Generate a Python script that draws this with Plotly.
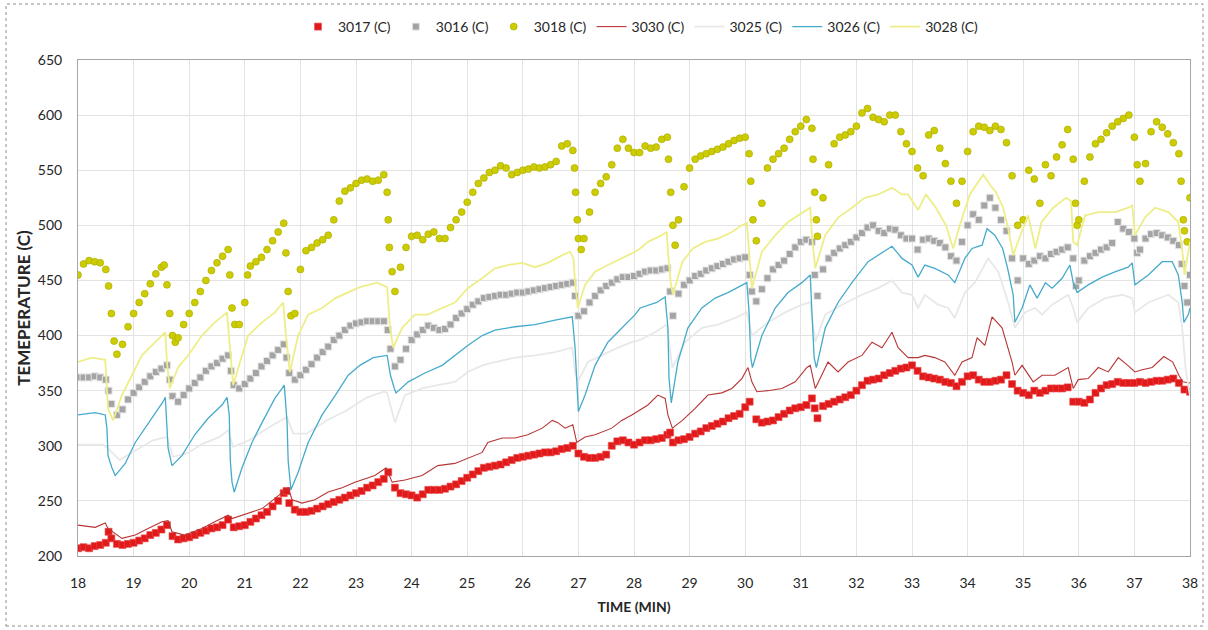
import plotly.graph_objects as go

# ---- thermocouple readings: (time in minutes, temperature in C) ----
S3017 = [(18.0,207),(18.1,208),(18.2,207),(18.3,209),(18.4,210),(18.5,212),(18.55,222),(18.6,216),(18.7,211),(18.8,210),
         (18.9,211),(19.0,212),(19.1,214),(19.2,216),(19.3,219),(19.4,221),(19.5,224),(19.6,228),(19.7,218),(19.8,215),
         (19.9,216),(20.0,217),(20.1,219),(20.2,221),(20.3,223),(20.4,225),(20.5,226),(20.6,228),(20.7,233),(20.8,226),
         (20.9,227),(21.0,228),(21.1,231),(21.2,234),(21.3,237),(21.4,240),(21.5,245),(21.6,250),(21.7,257),(21.75,259),
         (21.8,248),(21.9,242),(22.0,240),(22.1,240),(22.2,241),(22.3,243),(22.4,245),(22.5,247),(22.6,249),(22.7,251),
         (22.8,253),(22.9,255),(23.0,257),(23.1,259),(23.2,262),(23.3,264),(23.4,267),(23.5,270),(23.58,276),(23.7,262),
         (23.8,257),(23.9,256),(24.0,255),(24.1,253),(24.2,256),(24.3,260),(24.4,260),(24.5,260),(24.6,261),(24.7,263),
         (24.8,265),(24.9,268),(25.0,271),(25.1,274),(25.2,277),(25.3,280),(25.4,281),(25.5,282),(25.6,283),(25.7,285),
         (25.8,287),(25.9,289),(26.0,290),(26.1,291),(26.2,292),(26.3,293),(26.4,294),(26.5,294),(26.6,295),(26.7,297),
         (26.8,298),(26.9,300),(27.0,293),(27.1,290),(27.2,289),(27.3,289),(27.4,290),(27.5,292),(27.6,300),(27.7,304),
         (27.8,305),(27.9,303),(28.0,301),(28.1,303),(28.2,305),(28.3,305),(28.4,306),(28.5,307),(28.6,310),(28.65,312),
         (28.7,303),(28.8,305),(28.9,306),(29.0,308),(29.1,311),(29.2,313),(29.3,316),(29.4,318),(29.5,320),(29.6,322),
         (29.7,325),(29.8,327),(29.9,329),(30.0,335),(30.08,340),(30.2,324),(30.3,321),(30.4,322),(30.5,323),(30.6,326),
         (30.7,329),(30.8,332),(30.9,334),(31.0,335),(31.1,337),(31.2,343),(31.25,334),(31.3,325),(31.4,336),(31.5,338),
         (31.6,340),(31.7,342),(31.8,344),(31.9,346),(32.0,350),(32.1,355),(32.2,359),(32.3,360),(32.4,361),(32.5,364),
         (32.6,366),(32.7,368),(32.8,370),(32.9,371),(33.0,373),(33.1,368),(33.2,363),(33.3,362),(33.4,361),(33.5,360),
         (33.6,358),(33.7,357),(33.8,354),(33.9,358),(34.0,363),(34.1,364),(34.2,360),(34.3,358),(34.4,358),(34.5,359),
         (34.6,360),(34.7,364),(34.8,356),(34.9,350),(35.0,348),(35.1,346),(35.2,350),(35.3,348),(35.4,350),(35.5,352),
         (35.6,352),(35.7,352),(35.8,353),(35.9,340),(36.0,340),(36.1,339),(36.2,342),(36.3,348),(36.4,352),(36.5,355),
         (36.6,356),(36.7,358),(36.8,357),(36.9,357),(37.0,357),(37.1,358),(37.2,357),(37.3,358),(37.4,359),(37.5,359),
         (37.6,360),(37.7,361),(37.8,357),(37.9,351),(38.0,349)]

S3016 = [(18.0,362),(18.1,362),(18.2,362),(18.3,363),(18.4,362),(18.5,360),(18.55,350),(18.6,338),(18.7,328),(18.8,333),
         (18.9,342),(19.0,348),(19.1,353),(19.2,358),(19.3,363),(19.4,367),(19.5,370),(19.6,373),(19.65,360),(19.7,345),
         (19.8,340),(19.9,346),(20.0,352),(20.1,357),(20.2,362),(20.3,368),(20.4,372),(20.5,375),(20.6,379),(20.7,382),
         (20.75,368),(20.8,355),(20.9,352),(21.0,356),(21.1,361),(21.2,366),(21.3,372),(21.4,377),(21.5,382),(21.6,387),
         (21.7,392),(21.75,380),(21.8,366),(21.9,360),(22.0,364),(22.1,369),(22.2,374),(22.3,380),(22.4,385),(22.5,390),
         (22.6,396),(22.7,400),(22.8,405),(22.9,409),(23.0,411),(23.1,412),(23.2,413),(23.3,413),(23.4,413),(23.5,413),
         (23.57,405),(23.62,388),(23.7,372),(23.8,378),(23.9,388),(24.0,396),(24.1,401),(24.2,405),(24.3,409),(24.4,407),
         (24.5,405),(24.6,406),(24.7,410),(24.8,416),(24.9,420),(25.0,424),(25.1,428),(25.2,431),(25.3,434),(25.4,435),
         (25.5,436),(25.6,437),(25.7,437),(25.8,438),(25.9,439),(26.0,439),(26.1,440),(26.2,441),(26.3,442),(26.4,443),
         (26.5,444),(26.6,445),(26.7,446),(26.8,447),(26.9,448),(26.94,436),(27.0,418),(27.1,422),(27.2,430),(27.3,436),
         (27.4,441),(27.5,445),(27.6,448),(27.7,451),(27.8,453),(27.9,453),(28.0,454),(28.1,456),(28.2,458),(28.3,459),
         (28.4,459),(28.5,460),(28.6,461),(28.65,440),(28.7,418),(28.8,438),(28.9,446),(29.0,450),(29.1,454),(29.2,456),
         (29.3,459),(29.4,461),(29.5,463),(29.6,465),(29.7,467),(29.8,469),(29.9,470),(30.0,471),(30.08,455),(30.12,440),
         (30.2,431),(30.3,442),(30.4,452),(30.5,460),(30.6,464),(30.7,468),(30.8,474),(30.9,480),(31.0,485),(31.1,487),
         (31.2,485),(31.25,455),(31.3,436),(31.4,460),(31.5,470),(31.6,475),(31.7,479),(31.8,482),(31.9,485),(32.0,489),
         (32.1,493),(32.2,498),(32.3,500),(32.4,495),(32.5,493),(32.6,497),(32.7,496),(32.8,491),(32.9,488),(33.0,488),
         (33.1,478),(33.2,487),(33.3,488),(33.4,486),(33.5,484),(33.6,480),(33.7,472),(33.8,468),(33.9,485),(34.0,500),
         (34.1,510),(34.2,505),(34.3,518),(34.4,525),(34.5,516),(34.6,505),(34.7,495),(34.8,470),(34.9,450),(35.0,470),
         (35.1,465),(35.2,468),(35.3,472),(35.4,470),(35.5,474),(35.6,476),(35.7,478),(35.8,480),(35.9,470),(35.95,445),
         (36.0,450),(36.1,468),(36.2,472),(36.3,475),(36.4,478),(36.5,480),(36.6,484),(36.7,503),(36.8,497),(36.9,494),
         (37.0,488),(37.05,475),(37.1,478),(37.2,488),(37.3,492),(37.4,493),(37.5,491),(37.6,489),(37.7,486),(37.8,482),
         (37.85,465),(37.9,445),(37.95,430),(38.0,455)]

S3018 = [(18.0,455),(18.1,465),(18.2,468),(18.3,467),(18.4,466),(18.5,460),(18.55,445),(18.6,420),(18.65,395),(18.7,383),
         (18.8,392),(18.9,408),(19.0,420),(19.1,430),(19.2,438),(19.3,447),(19.4,456),(19.5,462),(19.55,464),(19.6,446),
         (19.65,420),(19.7,400),(19.75,394),(19.8,398),(19.9,410),(20.0,420),(20.1,430),(20.2,440),(20.3,450),(20.4,459),
         (20.5,466),(20.6,472),(20.7,478),(20.73,455),(20.77,425),(20.82,410),(20.9,410),(21.0,430),(21.05,455),(21.1,463),
         (21.2,467),(21.3,471),(21.4,478),(21.5,486),(21.6,494),(21.7,502),(21.74,475),(21.78,440),(21.83,418),(21.9,420),
         (22.0,460),(22.1,477),(22.2,480),(22.3,484),(22.4,487),(22.5,491),(22.6,505),(22.7,522),(22.8,531),(22.9,534),
         (23.0,538),(23.1,541),(23.2,542),(23.3,540),(23.4,541),(23.5,546),(23.56,530),(23.58,505),(23.6,480),(23.65,458),
         (23.7,440),(23.8,462),(23.9,480),(24.0,490),(24.1,491),(24.2,487),(24.3,492),(24.4,494),(24.5,488),(24.6,488),
         (24.7,498),(24.8,505),(24.9,512),(25.0,521),(25.1,530),(25.2,538),(25.3,543),(25.4,548),(25.5,550),(25.6,554),
         (25.7,552),(25.8,546),(25.9,548),(26.0,550),(26.1,551),(26.2,553),(26.3,552),(26.4,553),(26.5,555),(26.6,558),
         (26.7,572),(26.8,574),(26.9,568),(26.93,552),(26.95,530),(26.98,505),(27.0,488),(27.05,478),(27.1,488),(27.2,512),
         (27.3,530),(27.4,538),(27.5,544),(27.6,555),(27.7,570),(27.8,578),(27.9,570),(28.0,566),(28.1,566),(28.2,572),
         (28.3,570),(28.4,571),(28.5,578),(28.6,580),(28.62,560),(28.66,530),(28.7,500),(28.74,482),(28.8,505),(28.9,535),
         (29.0,552),(29.1,560),(29.2,563),(29.3,565),(29.4,567),(29.5,569),(29.6,571),(29.7,574),(29.8,577),(29.9,579),
         (30.0,580),(30.07,565),(30.1,540),(30.14,505),(30.2,486),(30.3,520),(30.4,552),(30.5,560),(30.6,565),(30.7,570),
         (30.8,578),(30.9,585),(31.0,590),(31.1,596),(31.2,588),(31.22,560),(31.25,530),(31.28,505),(31.3,490),(31.4,525),
         (31.5,555),(31.6,574),(31.7,580),(31.8,582),(31.9,585),(32.0,590),(32.1,602),(32.2,606),(32.3,598),(32.4,596),
         (32.5,594),(32.6,600),(32.7,600),(32.8,585),(32.9,574),(33.0,567),(33.1,552),(33.2,545),(33.3,582),(33.4,586),
         (33.5,570),(33.6,556),(33.7,540),(33.8,520),(33.9,540),(34.0,567),(34.1,585),(34.2,590),(34.3,589),(34.4,586),
         (34.5,590),(34.6,587),(34.7,575),(34.8,545),(34.9,500),(35.0,505),(35.1,550),(35.2,542),(35.3,520),(35.4,555),
         (35.5,545),(35.6,562),(35.7,573),(35.8,587),(35.9,560),(35.94,520),(35.97,500),(36.0,505),(36.1,540),(36.2,562),
         (36.3,574),(36.4,578),(36.5,584),(36.6,590),(36.7,594),(36.8,597),(36.9,600),(37.0,580),(37.05,555),(37.1,540),
         (37.2,556),(37.3,585),(37.4,594),(37.5,589),(37.6,583),(37.7,575),(37.8,565),(37.84,540),(37.88,505),(37.9,495),
         (37.95,485),(38.0,525)]

S3030 = [(18.0,228),(18.31,226),(18.49,230),(18.54,225),(18.79,216),(19.03,219),(19.26,225),(19.51,231),(19.62,232),
         (19.69,222),(19.92,219),(20.23,225),(20.46,231),(20.7,237),(20.77,234),(21.31,243),(21.54,252),(21.72,260),
         (21.78,262),(21.85,251),(22.03,248),(22.26,251),(22.5,258),(22.75,262),(22.98,267),(23.34,273),(23.54,280),
         (23.65,267),(23.88,269),(24.19,273),(24.47,282),(24.78,284),(25.01,289),(25.27,294),(25.37,303),(25.63,307),
         (25.86,307),(26.09,310),(26.35,316),(26.53,323),(26.63,321),(26.76,316),(26.9,319),(26.97,303),(27.12,308),
         (27.3,310),(27.6,316),(27.78,323),(27.96,328),(28.25,337),(28.43,346),(28.56,343),(28.61,328),(28.69,316),
         (28.87,323),(29.1,334),(29.33,346),(29.58,348),(29.76,352),(29.94,361),(30.05,371),(30.12,358),(30.21,349),
         (30.41,350),(30.66,352),(30.9,358),(31.11,371),(31.17,373),(31.26,352),(31.38,364),(31.49,376),(31.67,367),
         (31.85,376),(32.1,382),(32.28,394),(32.46,389),(32.64,403),(32.75,389),(32.93,380),(33.11,380),(33.23,382),
         (33.41,380),(33.59,376),(33.77,364),(33.9,376),(34.08,380),(34.17,398),(34.31,391),(34.44,417),(34.62,407),
         (34.8,376),(34.85,364),(34.98,373),(35.18,358),(35.34,364),(35.57,364),(35.81,371),(35.9,352),(35.99,360),
         (36.17,361),(36.35,371),(36.53,367),(36.71,380),(36.88,373),(37.01,367),(37.14,369),(37.32,371),(37.53,381),
         (37.69,376),(37.8,364),(37.87,358),(38.0,357)]

S3025 = [(18.0,301),(18.45,301),(18.53,298),(18.75,287),(18.94,293),(19.35,305),(19.6,308),(19.71,290),(19.96,293),
         (20.25,302),(20.55,308),(20.7,314),(20.79,299),(21.08,305),(21.44,317),(21.76,326),(21.87,311),(22.11,311),
         (22.47,323),(22.83,332),(23.2,344),(23.5,349),(23.56,348),(23.65,330),(23.7,321),(23.88,346),(24.19,352),
         (24.47,355),(24.78,358),(25.01,367),(25.27,373),(25.5,376),(25.86,380),(26.22,382),(26.58,385),(26.89,389),
         (26.94,367),(26.99,358),(27.17,376),(27.42,382),(27.71,389),(27.96,394),(28.11,396),(28.38,403),(28.59,410),
         (28.69,371),(28.92,394),(29.22,407),(29.51,410),(29.82,416),(30.03,421),(30.12,400),(30.41,412),(30.72,421),
         (31.02,428),(31.17,430),(31.26,394),(31.44,419),(31.74,428),(32.1,437),(32.39,443),(32.64,450),(32.82,439),
         (33.0,437),(33.11,425),(33.23,437),(33.47,428),(33.65,425),(33.77,416),(33.95,439),(34.13,448),(34.37,470),
         (34.55,458),(34.73,430),(34.85,407),(35.03,421),(35.21,425),(35.34,419),(35.52,428),(35.81,437),(35.9,425),
         (35.97,412),(36.17,425),(36.48,434),(36.78,437),(36.96,434),(37.01,421),(37.25,430),(37.61,437),(37.79,430),
         (37.86,407),(37.92,370),(38.0,345)]

S3026 = [(18.0,328),(18.31,330),(18.49,328),(18.52,316),(18.54,291),(18.61,280),(18.67,273),(18.85,284),(19.03,303),
         (19.21,316),(19.38,328),(19.53,340),(19.57,344),(19.6,321),(19.62,298),(19.69,282),(19.87,291),(20.1,310),
         (20.34,325),(20.59,337),(20.68,344),(20.72,328),(20.74,286),(20.77,267),(20.81,258),(20.95,280),(21.13,303),
         (21.31,321),(21.54,343),(21.67,352),(21.71,355),(21.76,321),(21.78,286),(21.83,260),(21.96,276),(22.14,303),
         (22.39,328),(22.63,346),(22.86,364),(23.07,373),(23.31,380),(23.56,382),(23.58,375),(23.62,364),(23.69,352),
         (23.72,348),(23.94,358),(24.24,366),(24.55,373),(24.78,382),(25.01,391),(25.27,400),(25.5,405),(25.86,408),
         (26.22,410),(26.58,414),(26.89,417),(26.94,389),(26.98,346),(27.0,331),(27.12,346),(27.3,373),(27.53,394),
         (27.78,407),(28.02,419),(28.11,425),(28.41,430),(28.56,435),(28.61,407),(28.63,361),(28.67,339),(28.79,376),
         (28.97,407),(29.22,425),(29.46,434),(29.69,439),(29.94,446),(30.03,448),(30.07,421),(30.1,380),(30.13,371),
         (30.3,400),(30.54,425),(30.77,439),(31.02,448),(31.17,455),(31.2,421),(31.24,380),(31.28,371),(31.44,407),
         (31.67,430),(31.92,448),(32.21,467),(32.46,475),(32.64,481),(32.82,470),(33.0,464),(33.11,453),(33.23,464),
         (33.41,461),(33.65,455),(33.77,448),(33.95,470),(34.08,479),(34.26,482),(34.35,497),(34.49,491),(34.63,479),
         (34.72,461),(34.82,437),(34.85,412),(34.98,425),(35.12,446),(35.25,434),(35.4,448),(35.52,443),(35.7,452),
         (35.84,464),(35.9,448),(35.97,439),(36.17,446),(36.42,453),(36.66,458),(36.89,462),(36.96,466),(37.01,446),
         (37.25,455),(37.5,467),(37.68,467),(37.79,455),(37.86,430),(37.89,412),(37.97,419),(38.0,425)]

S3028 = [(18.0,376),(18.25,380),(18.49,378),(18.52,355),(18.54,334),(18.63,323),(18.79,346),(18.97,364),(19.15,382),
         (19.33,391),(19.51,400),(19.57,403),(19.6,376),(19.65,352),(19.8,371),(19.98,382),(20.23,400),(20.46,412),
         (20.68,421),(20.72,394),(20.79,355),(20.95,382),(21.06,400),(21.31,412),(21.54,421),(21.69,430),(21.74,400),
         (21.81,367),(21.96,400),(22.14,419),(22.39,425),(22.63,434),(22.86,439),(23.07,444),(23.38,448),(23.56,444),
         (23.58,430),(23.61,407),(23.67,389),(23.83,407),(24.06,419),(24.29,419),(24.55,425),(24.78,430),(25.01,443),
         (25.27,452),(25.5,461),(25.73,464),(25.99,466),(26.22,462),(26.45,466),(26.71,473),(26.85,476),(26.91,470),
         (26.94,448),(26.99,425),(27.12,446),(27.3,458),(27.53,464),(27.78,470),(28.02,476),(28.11,479),(28.25,485),
         (28.5,491),(28.59,494),(28.61,476),(28.66,448),(28.7,437),(28.87,467),(29.06,479),(29.28,485),(29.51,488),
         (29.76,494),(29.94,500),(30.03,502),(30.07,476),(30.12,443),(30.3,476),(30.54,491),(30.77,503),(30.95,509),
         (31.17,516),(31.2,491),(31.26,461),(31.44,491),(31.67,507),(31.92,516),(32.15,525),(32.39,528),(32.64,534),
         (32.82,528),(32.93,528),(33.02,521),(33.11,514),(33.25,528),(33.43,516),(33.61,500),(33.74,479),(33.86,500),
         (34.04,528),(34.28,546),(34.4,537),(34.51,530),(34.64,516),(34.73,497),(34.82,473),(34.95,491),(35.09,509),
         (35.22,479),(35.33,503),(35.54,516),(35.77,525),(35.86,522),(35.9,485),(35.97,482),(36.11,509),(36.35,512),
         (36.66,512),(36.89,516),(36.96,518),(37.01,491),(37.19,507),(37.37,516),(37.61,512),(37.79,503),(37.87,473),
         (37.9,455),(38.0,485)]

Y_TICKS = [200, 250, 300, 350, 400, 450, 500, 550, 600, 650]
X_TICKS = list(range(18, 39))

FONT = "Lato, 'Liberation Sans', Arial, sans-serif"
TXT = "#262626"


def xs(series):
    return [p[0] for p in series]


def ys(series):
    return [p[1] for p in series]


fig = go.Figure()

# Point series (drawn first, underneath the lines)
fig.add_trace(go.Scatter(
    x=xs(S3017), y=ys(S3017), mode="markers", name="3017 (C)",
    marker=dict(symbol="square", size=7, color="#e0191b",
                line=dict(color="#ee4a4a", width=0.6)),
))
fig.add_trace(go.Scatter(
    x=xs(S3016), y=ys(S3016), mode="markers", name="3016 (C)",
    marker=dict(symbol="square", size=7, color="#a4a4a4",
                line=dict(color="#e6e6e6", width=1)),
))
fig.add_trace(go.Scatter(
    x=xs(S3018), y=ys(S3018), mode="markers", name="3018 (C)",
    marker=dict(symbol="circle", size=7, color="#cccc00",
                line=dict(color="#a8a800", width=0.6)),
))

# Line series
fig.add_trace(go.Scatter(
    x=xs(S3030), y=ys(S3030), mode="lines", name="3030 (C)",
    line=dict(color="#b83535", width=1.1),
))
fig.add_trace(go.Scatter(
    x=xs(S3025), y=ys(S3025), mode="lines", name="3025 (C)",
    line=dict(color="#e8e8e8", width=1.8),
))
fig.add_trace(go.Scatter(
    x=xs(S3026), y=ys(S3026), mode="lines", name="3026 (C)",
    line=dict(color="#46aacb", width=1.3),
))
fig.add_trace(go.Scatter(
    x=xs(S3028), y=ys(S3028), mode="lines", name="3028 (C)",
    line=dict(color="#eeee88", width=1.8),
))

# Plot area spans x 78..1190 px and y 60..556 px of the 1208x630 page
L, R, T, B = 78, 18, 60, 74
PW, PH = 1208 - L - R, 630 - T - B


def px_x(px):
    return (px - L) / PW


def px_y(py):
    return (630 - B - py) / PH


fig.update_layout(
    width=1208, height=630,
    margin=dict(l=L, r=R, t=T, b=B, autoexpand=False),
    paper_bgcolor="white", plot_bgcolor="white",
    font=dict(family=FONT, size=14, color=TXT),
    showlegend=True,
    legend=dict(
        orientation="h", x=px_x(298), xanchor="left", y=px_y(27), yanchor="middle",
        font=dict(family=FONT, size=14, color=TXT),
        itemwidth=30, tracegroupgap=0, bgcolor="rgba(0,0,0,0)",
    ),
    xaxis=dict(
        range=[18, 38], tickvals=X_TICKS, ticktext=[str(v) for v in X_TICKS],
        showgrid=True, gridcolor="#e3e3e3", gridwidth=1,
        showline=True, linecolor="#a6a6a6", linewidth=1, mirror=True,
        zeroline=False, ticks="", ticklabelstandoff=14,
        tickfont=dict(family=FONT, size=14, color=TXT),
        title=dict(text="<b>TIME (MIN)</b>", font=dict(family=FONT, size=14, color=TXT), standoff=12),
        automargin=False,
    ),
    yaxis=dict(
        range=[200, 650], tickvals=Y_TICKS, ticktext=[str(v) for v in Y_TICKS],
        showgrid=True, gridcolor="#e3e3e3", gridwidth=1,
        showline=True, linecolor="#a6a6a6", linewidth=1, mirror=True,
        zeroline=False, ticks="", ticklabelstandoff=12,
        tickfont=dict(family=FONT, size=14, color=TXT),
        title=dict(text="<b>TEMEPERATURE (C)</b>", font=dict(family=FONT, size=17, color=TXT), standoff=2),
        automargin=False,
    ),
    shapes=[
        dict(type="rect", xref="paper", yref="paper",
             x0=px_x(6), x1=px_x(1203), y0=px_y(626), y1=px_y(4),
             line=dict(color="#8c8c8c", width=1, dash="dot"), fillcolor="rgba(0,0,0,0)", layer="below"),
    ],
)

fig.write_html("out.html")
